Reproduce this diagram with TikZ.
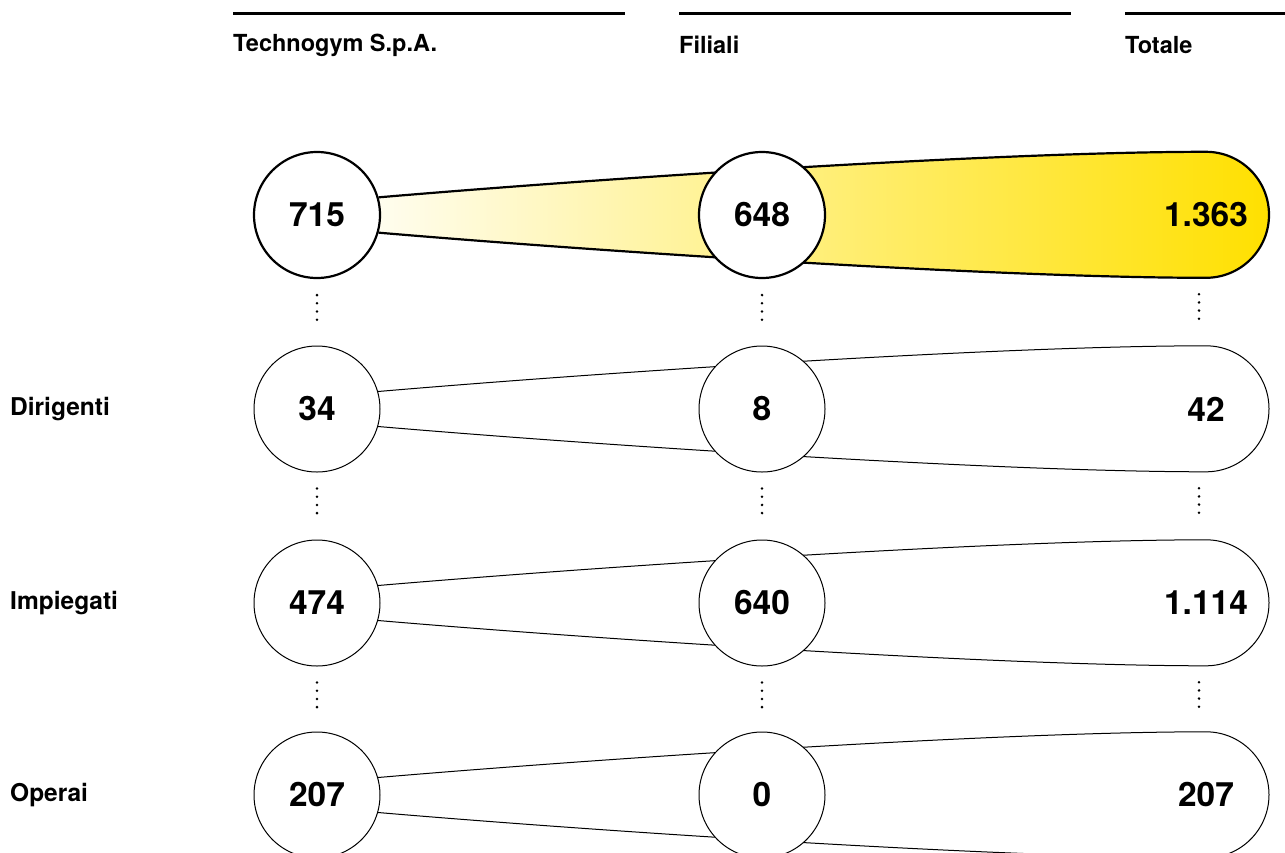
\documentclass[tikz,border=0pt]{standalone}
\usepackage{fontspec}
\setmainfont{TeX Gyre Heros}
\usetikzlibrary{backgrounds}

\definecolor{tgyellow}{RGB}{255,224,0}
% band from the first bubble to the rounded total end
\newcommand\band[1]{(t#1.16) .. controls +(223,-19) and +(-206,0) .. (s#1.north)
  arc[start angle=-90,end angle=90,radius=63]
  .. controls +(-206,0) and +(223,19) .. (t#1.-16)}

\begin{document}
\begin{tikzpicture}[x=1pt,y=-1pt,
    val/.style={circle,minimum size=126pt,inner sep=0pt,font=\fontsize{33.5}{34}\selectfont\bfseries},
    bubble/.style={val,draw,fill=white},
    hdr/.style={anchor=west,inner sep=0pt,font=\fontsize{23.5}{26}\selectfont\bfseries},
    lbl/.style={hdr,font=\fontsize{24.5}{26}\selectfont\bfseries},
    dotline/.style={line width=2.8pt,line cap=round,dash pattern=on 0pt off 8.2pt,shorten <=16pt,shorten >=19pt}
  ]
  \useasboundingbox (0,0) rectangle (1285,852);
  % column heads
  \foreach \x/\w/\name in {233/392/Technogym S.p.A.,679/392/Filiali,1125/160/Totale} {
    \draw[line width=3pt] (\x,13) -- ++(\w,0);
    \node[hdr] (h\x) at (\x,45) {\name};
  }
  % rows
  \foreach \r/\y/\lw/\a/\b/\c in {1/215/2.2pt/715/648/1.363,2/409/1pt/34/8/42,
      3/603/1pt/474/640/1.114,4/795/1pt/207/0/207} {
    \node[bubble,line width=\lw] (t\r) at (317,\y) {\a};
    \node[bubble,line width=\lw] (f\r) at (762,\y) {\b};
    \node[val] (s\r) at (1206,\y) {\c};
  }
  \node[lbl] (l2) at (10,409) {Dirigenti};
  \node[lbl] (l3) at (10,603) {Impiegati};
  \node[lbl] (l4) at (10,795) {Operai};
  \begin{scope}[on background layer]
    \fill[left color=white,right color=tgyellow] \band{1} -- (t1.center) -- cycle;
    \draw[line width=2.2pt] \band{1};
    \foreach \r in {2,3,4}
      \draw[line width=1pt] \band{\r};
  \end{scope}
  % dotted links between rows
  \foreach \r/\n in {1/2,2/3,3/4} {
    \draw[dotline] (t\r.south) -- (t\n.north);
    \draw[dotline] (f\r.south) -- (f\n.north);
    \draw[dotline] ([xshift=-7pt]s\r.south) -- ([xshift=-7pt]s\n.north);
  }
\end{tikzpicture}
\end{document}
